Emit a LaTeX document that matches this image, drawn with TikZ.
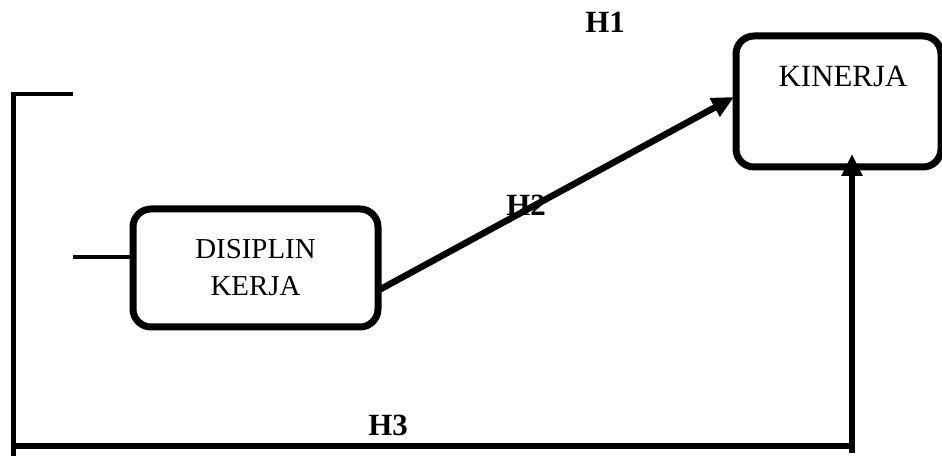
\documentclass[tikz,border=0pt]{standalone}
\usepackage{fontspec}
\setmainfont{Liberation Serif}
\usetikzlibrary{arrows.meta,calc}
\begin{document}
\begin{tikzpicture}[x=1bp,y=-1bp,
  varbox/.style={draw,line width=7bp,rounded corners=18bp,fill=white,
    font=\fontsize{29}{34}\selectfont,align=center,inner sep=0pt},
  hyp/.style={font=\bfseries\fontsize{31}{34}\selectfont,inner sep=0pt},
  thinline/.style={line width=4bp},
  thickline/.style={line width=6.5bp},
  tip/.style={-{Triangle[length=22bp,width=20bp]}}]
  \useasboundingbox (0,0) rectangle (942,456);

  % variable boxes
  \node[varbox,minimum width=245bp,minimum height=118bp] (disiplin) at (255.5,268)
    {DISIPLIN\\[3bp]KERJA};
  \node[varbox,minimum width=205bp,minimum height=131bp] (kinerja) at (838.5,101.5) {};
  \node[font=\fontsize{31}{34}\selectfont,inner sep=0pt] (kinlabel) at (843,76) {KINERJA};

  % frame lines
  \coordinate (frameTR) at (73,94);
  \coordinate (frameTL) at (13,94);
  \coordinate (frameBL) at (13,456);
  \coordinate (baseL) at (13,446);
  \coordinate (baseR) at (852,446);
  \coordinate (riseFoot) at (852,453);
  \coordinate (riseTop) at (852,154);
  \coordinate (stub) at (73,257);
  \coordinate (h2start) at (379,290);
  \coordinate (h2end) at (734,97);

  \draw[line width=3.5bp] (frameTR) -- (frameTL);
  \draw[line width=5bp] (13,92.5) -- (frameBL);
  \draw[thickline] (baseL) -- (baseR);
  \draw[thinline] (stub) -- (disiplin.west |- stub);

  % hypothesis paths
  \draw[thickline,tip] (h2start) -- (h2end);
  \draw[line width=6bp,tip] (riseFoot) -- (riseTop);

  % hypothesis labels
  \node[hyp] (h1) at (605,22) {H1};
  \node[hyp] (h2) at (526,205) {H2};
  \node[hyp] (h3) at (388,425) {H3};
\end{tikzpicture}
\end{document}
